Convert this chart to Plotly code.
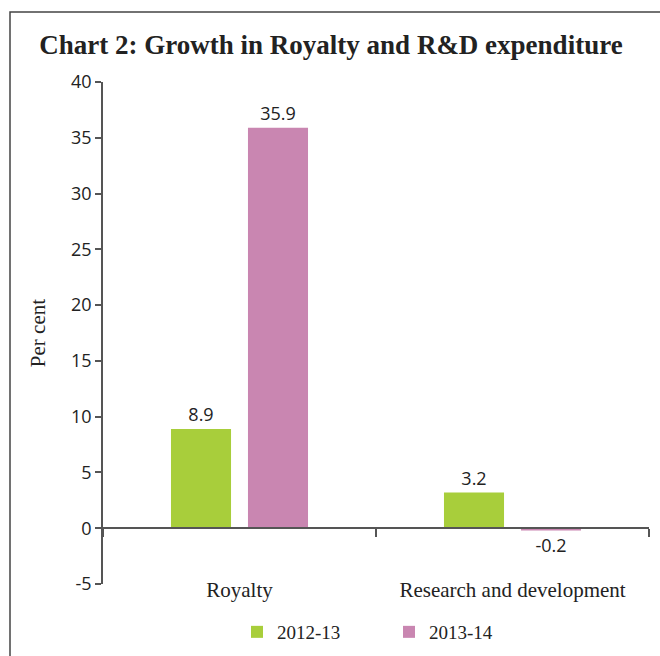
import plotly.graph_objects as go

categories = ["Royalty", "Research and development"]
series_names = ["2012-13", "2013-14"]
values_2012_13 = [8.9, 3.2]
values_2013_14 = [35.9, -0.2]
y_tick_values = [-5, 0, 5, 10, 15, 20, 25, 30, 35, 40]
y_tick_labels = ["-5", "0", "5", "10", "15", "20", "25", "30", "35", "40"]
colors = ["#a8ce3b", "#c986b1"]

SERIF = "Liberation Serif, DejaVu Serif, serif"
SANS = "Open Sans, Noto Sans, sans-serif"

fig = go.Figure()
for name, vals, col in zip(series_names, [values_2012_13, values_2013_14], colors):
    fig.add_trace(go.Bar(
        x=categories, y=vals, name=name, marker=dict(color=col, line=dict(width=0)),
        text=[f"{v:.1f}" for v in vals], textposition="outside",
        textfont=dict(family=SANS, size=18, color="#222"), cliponaxis=False,
    ))

# plot area geometry (pixels): x 103..649, y 82..584
L, R, T, B = 103, 11, 82, 72
W, H = 660 - L - R, 656 - T - B
def px(x): return (x - L) / W
def py(y): return (656 - B - y) / H

fig.update_layout(
    width=660, height=656,
    margin=dict(l=L, r=R, t=T, b=B, autoexpand=False),
    paper_bgcolor="white", plot_bgcolor="white",
    barmode="group", bargap=0.436, bargroupgap=0.22,
    title=dict(text="<b>Chart 2: Growth in Royalty and R&amp;D expenditure</b>",
               x=331 / 660, xref="container", xanchor="center", y=1 - 45 / 656, yanchor="middle",
               font=dict(family=SERIF, size=27, color="#222")),
    showlegend=True,
    legend=dict(orientation="h", x=px(237), xref="paper", xanchor="left",
                y=py(632), yanchor="middle",
                font=dict(family=SERIF, size=19, color="#222"),
                itemwidth=30, entrywidth=107, traceorder="normal"),
    xaxis=dict(anchor="free", position=py(528), showline=True, linecolor="#555", linewidth=1.5,
               ticks="outside", tickson="boundaries", ticklen=8, tickcolor="#555", tickwidth=1.5,
               ticklabelstandoff=43, automargin=False,
               tickfont=dict(family=SERIF, size=21, color="#222"), showgrid=False),
    yaxis=dict(range=[-5, 40], tickvals=y_tick_values, ticktext=y_tick_labels,
               showline=True, linecolor="#555", linewidth=1.5, automargin=False,
               ticks="outside", ticklen=6, tickcolor="#555", tickwidth=1.5,
               tickfont=dict(family=SANS, size=18, color="#222"), showgrid=False,
               zeroline=False,
               title=dict(text="Per cent", font=dict(family=SERIF, size=21, color="#222"), standoff=20)),
    shapes=[dict(type="path", xref="paper", yref="paper",
                 path=f"M {px(10)} {py(700)} L {px(10)} {py(12)} L {px(700)} {py(12)}",
                 line=dict(color="#444", width=1.5))],
)

fig.write_html("out.html")
